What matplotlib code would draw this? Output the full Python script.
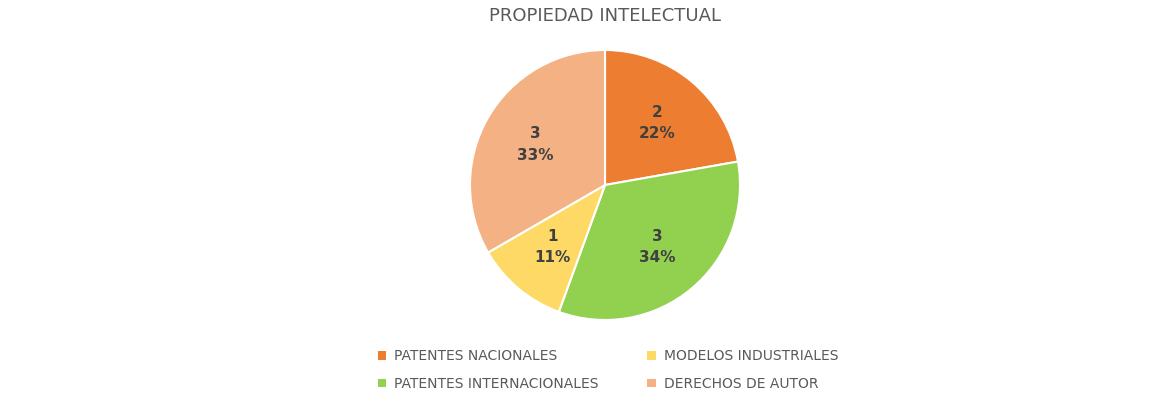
import matplotlib.pyplot as plt
from matplotlib.patches import Patch

categories = ['PATENTES NACIONALES', 'PATENTES INTERNACIONALES',
              'MODELOS INDUSTRIALES', 'DERECHOS DE AUTOR']
values = [2, 3, 1, 3]
pct_labels = ['22%', '34%', '11%', '33%']
colors = ['#ED7D31', '#92D050', '#FFD966', '#F4B183']

fig = plt.figure(figsize=(11.7, 4), dpi=100)
ax = fig.add_axes([(605 - 135) / 1170, (400 - 185 - 135) / 400, 270 / 1170, 270 / 400])

wedges, _ = ax.pie(values, colors=colors, startangle=90, counterclock=False,
                   wedgeprops=dict(edgecolor='white', linewidth=1.5))
import numpy as np
total = sum(values)
start = 90.0
for v, p in zip(values, pct_labels):
    mid = np.deg2rad(start - 360 * v / total / 2)
    start -= 360 * v / total
    ax.text(0.6 * np.cos(mid), 0.6 * np.sin(mid), f'{v}\n{p}', ha='center', va='center',
            fontsize=11, fontweight='bold', color='#404040', linespacing=1.5)
ax.set_xlim(-1, 1)
ax.set_ylim(-1, 1)

fig.text(605 / 1170, 1 - 16 / 400, 'PROPIEDAD INTELECTUAL', ha='center', va='center',
         fontsize=13, color='#595959')

handles = [Patch(facecolor=c, edgecolor='none') for c in colors]
fig.legend(handles, categories, ncol=2, loc='center', bbox_to_anchor=(608 / 1170, 1 - 370 / 400),
           frameon=False, fontsize=10, labelcolor='#595959', handlelength=0.6, handleheight=0.6,
           handletextpad=0.6, columnspacing=3.5, labelspacing=1.0)

fig.savefig('out.png', dpi=100)
